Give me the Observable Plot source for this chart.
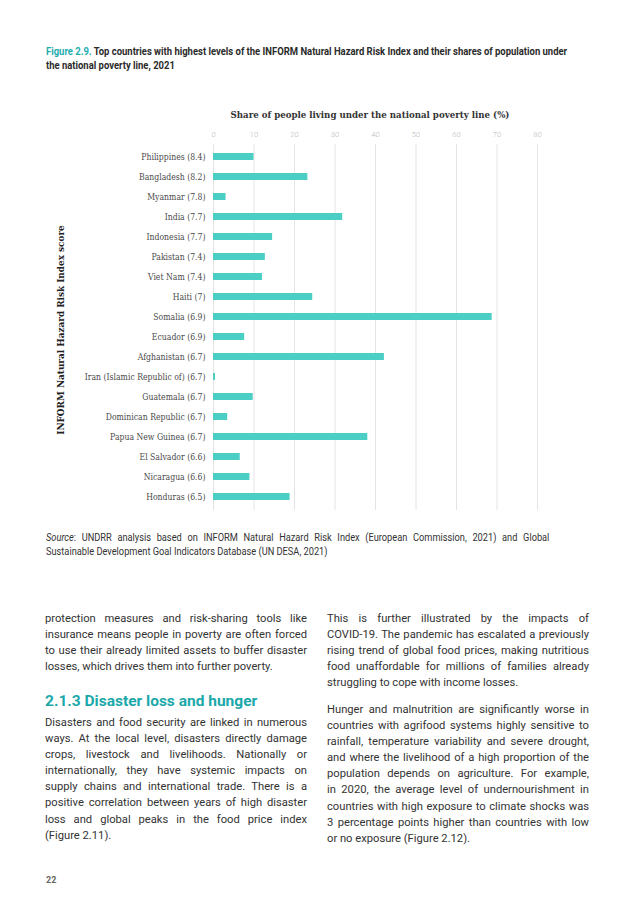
<!DOCTYPE html>
<html>
<head>
<meta charset="utf-8">
<script src="https://cdn.jsdelivr.net/npm/d3@7"></script>
<script src="https://cdn.jsdelivr.net/npm/@observablehq/plot@0.6"></script>
<style>
  html, body { margin: 0; padding: 0; background: #fff; }
  #page { position: relative; width: 642px; height: 907px; background: #fff; overflow: hidden; }
  .abs { position: absolute; }
  #title { left: 46px; top: 45px; white-space: nowrap; transform: scaleX(0.86); transform-origin: 0 0; font-family: "Roboto", sans-serif; font-weight: bold; font-size: 11px; line-height: 14px; color: #2b2b2b; }
  #title .fig { color: #1faeb0; }
  #ctitle { left: 0; width: 740px; top: 109px; text-align: center; font-family: "DejaVu Serif Condensed", "DejaVu Serif", serif; font-weight: bold; font-size: 9.6px; color: #333; }
  #ylab { left: 60px; top: 330px; transform: translate(-50%, -50%) rotate(-90deg); white-space: nowrap; font-family: "DejaVu Serif Condensed", "DejaVu Serif", serif; font-weight: bold; font-size: 9.9px; color: #222; }
  #chart { left: 0; top: 100px; line-height: 0; }
  #source { left: 46px; top: 531px; width: 572px; transform: scaleX(0.88); transform-origin: 0 0; font-family: "Roboto", sans-serif; font-size: 10.5px; line-height: 13.5px; color: #333; }
  .line { text-align: justify; text-align-last: justify; }
  .last { text-align: left; text-align-last: left; }
  .col { font-family: "Roboto", sans-serif; font-size: 11.2px; line-height: 16.1px; color: #333; width: 262px; }
  .col .line { height: 16.1px; }
  #h213 { left: 45px; top: 692px; font-family: "Roboto", sans-serif; font-weight: bold; font-size: 15.5px; color: #1aa8aa; white-space: nowrap; }
  #pnum { left: 46px; top: 875px; font-family: "Roboto", sans-serif; font-weight: bold; font-size: 9px; color: #666; }
</style>
</head>
<body>
<div id="page">
  <div id="title" class="abs"><span class="fig">Figure 2.9.</span> Top countries with highest levels of the INFORM Natural Hazard Risk Index and their shares of population under<br>the national poverty line, 2021</div>
  <div id="ctitle" class="abs">Share of people living under the national poverty line (%)</div>
  <div id="chart" class="abs"></div>
  <div id="ylab" class="abs">INFORM Natural Hazard Risk Index score</div>
  <div id="source" class="abs">
    <div class="line"><i>Source</i>: UNDRR analysis based on INFORM Natural Hazard Risk Index (European Commission, 2021) and Global</div>
    <div class="line last">Sustainable Development Goal Indicators Database (UN DESA, 2021)</div>
  </div>

  <div class="abs col" style="left:45px; top:611px;">
    <div class="line">protection measures and risk-sharing tools like</div>
    <div class="line">insurance means people in poverty are often forced</div>
    <div class="line">to use their already limited assets to buffer disaster</div>
    <div class="line last">losses, which drives them into further poverty.</div>
  </div>
  <div id="h213" class="abs">2.1.3 Disaster loss and hunger</div>
  <div class="abs col" style="left:45px; top:715px;">
    <div class="line">Disasters and food security are linked in numerous</div>
    <div class="line">ways. At the local level, disasters directly damage</div>
    <div class="line">crops, livestock and livelihoods. Nationally or</div>
    <div class="line">internationally, they have systemic impacts on</div>
    <div class="line">supply chains and international trade. There is a</div>
    <div class="line">positive correlation between years of high disaster</div>
    <div class="line">loss and global peaks in the food price index</div>
    <div class="line last">(Figure 2.11).</div>
  </div>

  <div class="abs col" style="left:327px; top:611px;">
    <div class="line">This is further illustrated by the impacts of</div>
    <div class="line">COVID-19. The pandemic has escalated a previously</div>
    <div class="line">rising trend of global food prices, making nutritious</div>
    <div class="line">food unaffordable for millions of families already</div>
    <div class="line last">struggling to cope with income losses.</div>
  </div>
  <div class="abs col" style="left:327px; top:702px;">
    <div class="line">Hunger and malnutrition are significantly worse in</div>
    <div class="line">countries with agrifood systems highly sensitive to</div>
    <div class="line">rainfall, temperature variability and severe drought,</div>
    <div class="line">and where the livelihood of a high proportion of the</div>
    <div class="line">population depends on agriculture. For example,</div>
    <div class="line">in 2020, the average level of undernourishment in</div>
    <div class="line">countries with high exposure to climate shocks was</div>
    <div class="line">3 percentage points higher than countries with low</div>
    <div class="line last">or no exposure (Figure 2.12).</div>
  </div>
  <div id="pnum" class="abs">22</div>
</div>
<script>
const countries = ["Philippines", "Bangladesh", "Myanmar", "India", "Indonesia", "Pakistan", "Viet Nam", "Haiti", "Somalia", "Ecuador", "Afghanistan", "Iran (Islamic Republic of)", "Guatemala", "Dominican Republic", "Papua New Guinea", "El Salvador", "Nicaragua", "Honduras"];
const riskScores = [8.4, 8.2, 7.8, 7.7, 7.7, 7.4, 7.4, 7, 6.9, 6.9, 6.7, 6.7, 6.7, 6.7, 6.7, 6.6, 6.6, 6.5];
const povertyShare = [10.0, 23.3, 3.1, 31.9, 14.6, 12.8, 12.1, 24.5, 68.8, 7.7, 42.2, 0.5, 9.8, 3.5, 38.1, 6.6, 9.0, 18.9];
const xTicks = [0, 10, 20, 30, 40, 50, 60, 70, 80];

const rows = countries.map((c, i) => ({label: `${c} (${riskScores[i]})`, value: povertyShare[i]}));

const chart = Plot.plot({
  width: 642,
  height: 420,
  marginLeft: 213,
  marginRight: 105,
  marginTop: 44,
  marginBottom: 10,
  style: {background: "transparent", fontFamily: "'DejaVu Serif Condensed', 'DejaVu Serif', serif"},
  x: {domain: [0, 80]},
  y: {domain: rows.map(d => d.label), paddingInner: 0.63, paddingOuter: 0.315},
  marks: [
    Plot.gridX(xTicks, {stroke: "#e4e4e4", strokeOpacity: 1, strokeWidth: 1}),
    Plot.axisX(xTicks, {anchor: "top", tickSize: 0, tickPadding: 8, label: null, fill: "#b8b8b8", fontSize: 7.5, fontFamily: "Roboto, sans-serif", fontWeight: 300}),
    Plot.barX(rows, {y: "label", x: "value", fill: "#4bcfc5"}),
    Plot.axisY({tickSize: 0, tickPadding: 8, label: null, fill: "#4a4a4a", fontSize: 8.6})
  ]
});
document.getElementById("chart").appendChild(chart);
</script>
</body>
</html>
